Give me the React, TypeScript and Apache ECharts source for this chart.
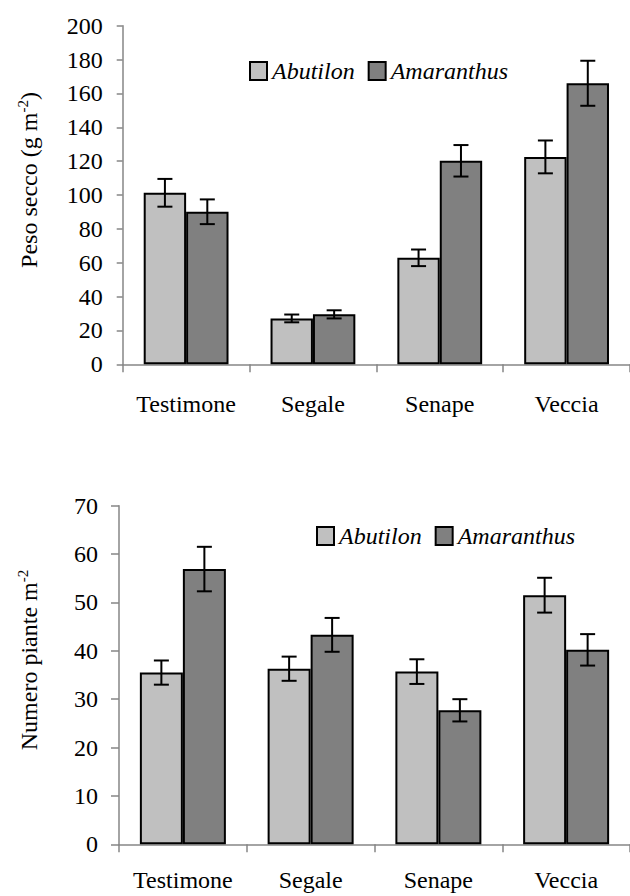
import React, { useEffect, useRef } from "react";
import * as echarts from "echarts";

const categories = ["Testimone", "Segale", "Senape", "Veccia"];
const seriesNames = ["Abutilon", "Amaranthus"];

const pesoAbutilon = [101.3, 27.1, 62.9, 122.5];
const pesoAbutilonErr = [8.2, 2.3, 4.9, 9.7];
const pesoAmaranthus = [90.1, 29.5, 120.2, 166.0];
const pesoAmaranthusErr = [7.3, 2.4, 9.3, 13.3];

const numeroAbutilon = [35.5, 36.3, 35.7, 51.5];
const numeroAbutilonErr = [2.5, 2.5, 2.55, 3.6];
const numeroAmaranthus = [56.9, 43.3, 27.7, 40.2];
const numeroAmaranthusErr = [4.6, 3.5, 2.3, 3.25];

const pesoTicks = { min: 0, max: 200, interval: 20 };
const numeroTicks = { min: 0, max: 70, interval: 10 };

const FONT = "Liberation Serif";
const LIGHT = "#c0c0c0";
const DARK = "#808080";
const AXIS = "#868686";

function errData(vals: number[], errs: number[]) {
  return vals.map((v, i) => [i, v - errs[i], v + errs[i]]);
}

function errSeries(name: string, data: number[][], gridIdx: number, offset: number) {
  return {
    type: "custom",
    name,
    xAxisIndex: gridIdx,
    yAxisIndex: gridIdx,
    z: 10,
    silent: true,
    encode: { x: 0, y: [1, 2] },
    data,
    renderItem: (params: any, api: any) => {
      const lo = api.coord([api.value(0), api.value(1)]);
      const hi = api.coord([api.value(0), api.value(2)]);
      const x = lo[0] + offset;
      const cap = 7.5;
      const st = { stroke: "#000", lineWidth: 2 };
      return {
        type: "group",
        children: [
          { type: "line", shape: { x1: x, y1: lo[1], x2: x, y2: hi[1] }, style: st },
          { type: "line", shape: { x1: x - cap, y1: hi[1], x2: x + cap, y2: hi[1] }, style: st },
          { type: "line", shape: { x1: x - cap, y1: lo[1], x2: x + cap, y2: lo[1] }, style: st },
        ],
      };
    },
  };
}

export default function App() {
  const ref = useRef<HTMLDivElement>(null);
  useEffect(() => {
    document.body.style.margin = "0";
    const chart = echarts.init(ref.current!, null, { renderer: "svg" });
    const axisLabel = { color: "#000", fontSize: 24, fontFamily: FONT };
    const barStyle = (c: string) => ({ color: c, borderColor: "#000", borderWidth: 2 });
    const xAxisBase = (gi: number, margin: number) => ({
      type: "category",
      gridIndex: gi,
      data: categories,
      axisLine: { lineStyle: { color: AXIS, width: 1.5 } },
      axisTick: { show: true, length: 8, lineStyle: { color: AXIS, width: 1.5 } },
      axisLabel: { ...axisLabel, margin, interval: 0 },
    });
    const yAxisBase = (gi: number, t: any, margin: number, tickLen: number) => ({
      type: "value",
      gridIndex: gi,
      min: t.min,
      max: t.max,
      interval: t.interval,
      splitLine: { show: false },
      axisLine: { show: true, lineStyle: { color: AXIS, width: 1.5 } },
      axisTick: { show: true, length: tickLen, lineStyle: { color: AXIS, width: 1.5 } },
      axisLabel: { ...axisLabel, margin },
    });
    const legendBase = (left: number, top: number) => ({
      left,
      top,
      padding: 0,
      orient: "horizontal",
      data: seriesNames,
      icon: "rect",
      itemWidth: 17,
      itemHeight: 18,
      itemGap: 13,
      selectedMode: false,
      textStyle: { fontSize: 24, fontStyle: "italic", fontFamily: FONT, color: "#000" },
    });
    const titleRich = {
      a: { fontSize: 24, fontFamily: FONT, color: "#000", lineHeight: 26, verticalAlign: "bottom" },
      s: { fontSize: 15, fontFamily: FONT, color: "#000", lineHeight: 26, verticalAlign: "top" },
    };
    chart.setOption({
      animation: false,
      backgroundColor: "#fff",
      textStyle: { fontFamily: FONT },
      grid: [
        { left: 122.7, top: 25.7, width: 509, height: 338.6 },
        { left: 119, top: 505.7, width: 514, height: 338.6 },
      ],
      legend: [legendBase(249, 59), legendBase(316, 524)],
      xAxis: [xAxisBase(0, 28), xAxisBase(1, 24)],
      yAxis: [yAxisBase(0, pesoTicks, 20, 6), yAxisBase(1, numeroTicks, 21, 8)],
      graphic: [
        {
          type: "text",
          x: 28,
          y: 180,
          rotation: Math.PI / 2,
          style: {
            text: "{a|Peso secco (g m}{s|-2}{a|)}",
            rich: titleRich,
            fontFamily: FONT,
            align: "center",
            verticalAlign: "middle",
          },
        },
        {
          type: "text",
          x: 28,
          y: 660,
          rotation: Math.PI / 2,
          style: {
            text: "{a|Numero piante m}{s|-2}",
            rich: titleRich,
            fontFamily: FONT,
            align: "center",
            verticalAlign: "middle",
          },
        },
      ],
      series: [
        { type: "bar", name: "Abutilon", xAxisIndex: 0, yAxisIndex: 0, data: pesoAbutilon, barWidth: 42.4, barGap: "0%", itemStyle: barStyle(LIGHT) },
        { type: "bar", name: "Amaranthus", xAxisIndex: 0, yAxisIndex: 0, data: pesoAmaranthus, barWidth: 42.4, barGap: "0%", itemStyle: barStyle(DARK) },
        { type: "bar", name: "Abutilon", xAxisIndex: 1, yAxisIndex: 1, data: numeroAbutilon, barWidth: 43, barGap: "0%", itemStyle: barStyle(LIGHT) },
        { type: "bar", name: "Amaranthus", xAxisIndex: 1, yAxisIndex: 1, data: numeroAmaranthus, barWidth: 43, barGap: "0%", itemStyle: barStyle(DARK) },
        errSeries("errPesoAb", errData(pesoAbutilon, pesoAbutilonErr), 0, -21.2),
        errSeries("errPesoAm", errData(pesoAmaranthus, pesoAmaranthusErr), 0, 21.2),
        errSeries("errNumAb", errData(numeroAbutilon, numeroAbutilonErr), 1, -21.5),
        errSeries("errNumAm", errData(numeroAmaranthus, numeroAmaranthusErr), 1, 21.5),
      ],
    });
    return () => chart.dispose();
  }, []);
  return (
    <div
      ref={ref}
      style={{ position: "absolute", left: 0, top: 0, width: 630, height: 896 }}
    />
  );
}
